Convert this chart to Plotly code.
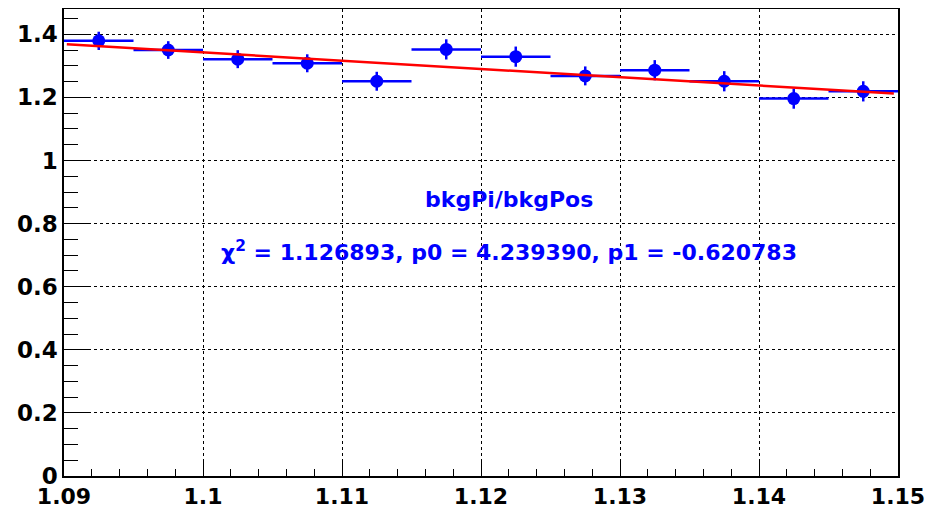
import plotly.graph_objects as go

# Data
bin_centers = [1.0925, 1.0975, 1.1025, 1.1075, 1.1125, 1.1175,
               1.1225, 1.1275, 1.1325, 1.1375, 1.1425, 1.1475]
bin_half_width = [0.0025] * 12
ratio = [1.379, 1.350, 1.321, 1.308, 1.251, 1.352,
         1.329, 1.268, 1.286, 1.251, 1.196, 1.219]
ratio_err = [0.029, 0.028, 0.0285, 0.0285, 0.030, 0.032,
             0.032, 0.030, 0.032, 0.032, 0.032, 0.032]

fit_x = [1.0902, 1.1497]
fit_y = [1.368, 1.212]

title_text = "bkgPi/bkgPos"
fit_text = "χ<sup>2</sup> = 1.126893, p0 = 4.239390, p1 = -0.620783"

x_ticks = [1.09, 1.10, 1.11, 1.12, 1.13, 1.14, 1.15]
x_tick_labels = ["1.09", "1.1", "1.11", "1.12", "1.13", "1.14", "1.15"]
y_ticks = [0, 0.2, 0.4, 0.6, 0.8, 1.0, 1.2, 1.4]
y_tick_labels = ["0", "0.2", "0.4", "0.6", "0.8", "1", "1.2", "1.4"]

BLUE = "#0000ff"
RED = "#ff0000"
FONT = "DejaVu Sans"

fig = go.Figure()

fig.add_trace(go.Scatter(
    x=bin_centers, y=ratio, mode="markers",
    marker=dict(color=BLUE, size=13, symbol="circle"),
    error_x=dict(type="data", array=bin_half_width, color=BLUE, thickness=2.5, width=0),
    error_y=dict(type="data", array=ratio_err, color=BLUE, thickness=2.5, width=0),
    showlegend=False,
))

fig.add_trace(go.Scatter(
    x=fit_x, y=fit_y, mode="lines",
    line=dict(color=RED, width=2.5),
    showlegend=False,
))

fig.add_annotation(x=1.122, y=0.875, xref="x", yref="y", text=title_text,
                   showarrow=False, xanchor="center", yanchor="middle",
                   font=dict(family=FONT, size=22, color=BLUE, weight="bold"))
fig.add_annotation(x=1.122, y=0.712, xref="x", yref="y", text=fit_text,
                   showarrow=False, xanchor="center", yanchor="middle",
                   font=dict(family=FONT, size=22, color=BLUE, weight="bold"))

axis_common = dict(
    showline=True, linecolor="black", linewidth=1.5, mirror=True,
    ticks="inside", tickcolor="black", tickwidth=1,
    showgrid=True, gridcolor="black", gridwidth=1, griddash="dot",
    zeroline=False, automargin=False,
)

fig.update_xaxes(
    range=[1.09, 1.15], tickmode="array", tickvals=x_ticks, ticktext=x_tick_labels,
    ticklen=15,
    tickfont=dict(family=FONT, size=22, color="black", weight="bold"),
    minor=dict(dtick=0.002, ticks="inside", ticklen=7, tickcolor="black", showgrid=False),
    **axis_common,
)
fig.update_yaxes(
    range=[0, 1.48], tickmode="array", tickvals=y_ticks, ticktext=y_tick_labels,
    ticklen=27,
    tickfont=dict(family=FONT, size=23, color="black", weight="bold"),
    minor=dict(dtick=0.05, ticks="inside", ticklen=14, tickcolor="black", showgrid=False),
    **axis_common,
)

fig.update_layout(
    width=934, height=506,
    margin=dict(l=56, r=44, t=1, b=38),
    paper_bgcolor="white", plot_bgcolor="white",
)

fig.write_html("out.html")
